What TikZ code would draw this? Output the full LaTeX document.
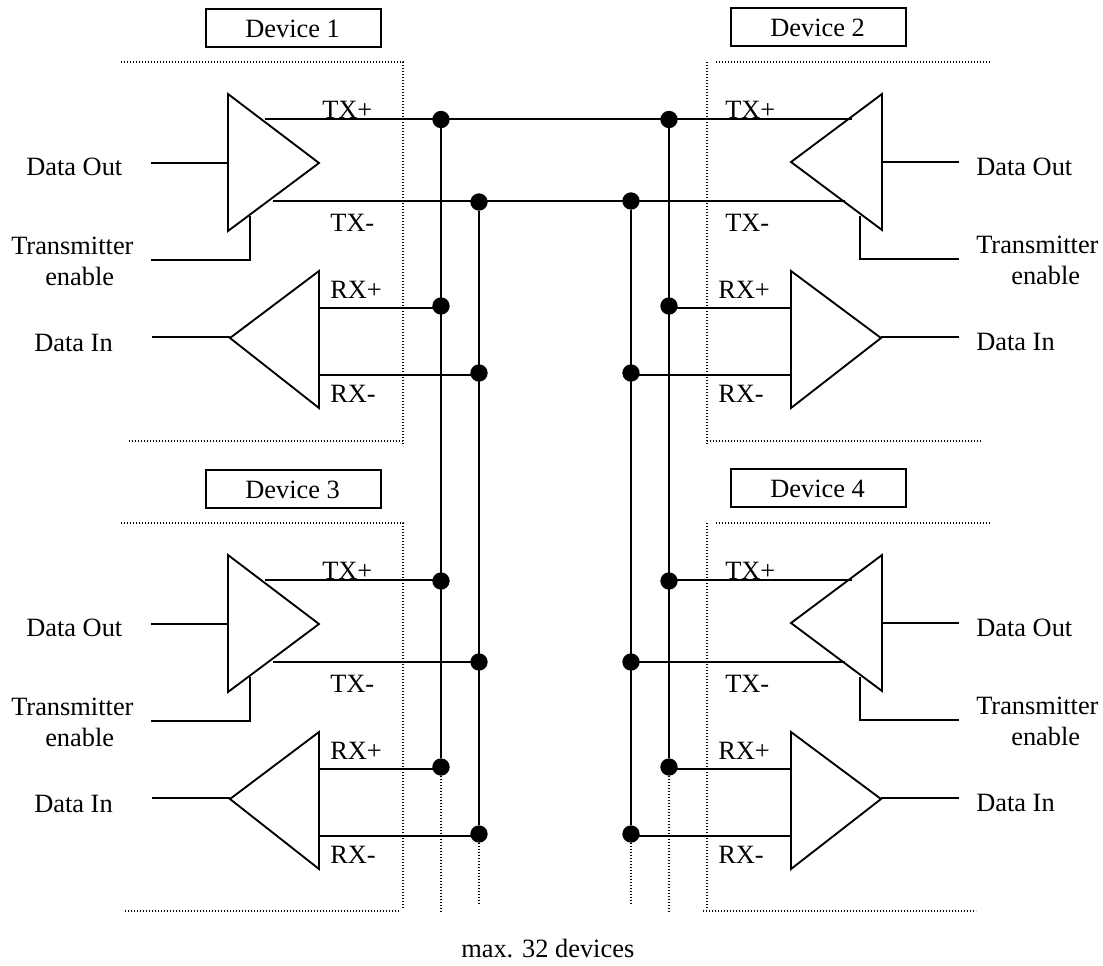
\documentclass[tikz,border=0pt]{standalone}
\usepackage{fontspec}
\setmainfont{Liberation Serif}
\tikzset{
  wire/.style={draw=black,line width=1.4pt},
  amp/.style={draw=black,line width=1.4pt,line join=miter,fill=none},
  dotline/.style={draw=black,line width=0.9pt,dash pattern=on 0.9pt off 1.35pt},
  junction/.style={circle,fill=black,inner sep=0pt,minimum size=13pt},
  lab/.style={anchor=base west,inner sep=0pt,font=\fontsize{19.8}{24}\selectfont},
  devbox/.style={draw=black,line width=1.5pt,inner sep=0pt,anchor=north west,minimum width=131pt,minimum height=28.5pt}
}
% #1 name, #2 y offset, #3 device label, #4 #5 dotted bottom x range, #6 dotted vertical end, #7 title left, #8 dotted bottom y
\newcommand{\leftdev}[8]{%
\begin{scope}[shift={(0,#2)}]
  \node[devbox] (#1box) at (205,8) {};
  \node[lab] (#1title) at (#7,37) {#3};
  \coordinate (#1dt) at (121,62); \coordinate (#1dc) at (403,62);
  \coordinate (#1de) at (403,#6); \coordinate (#1db) at (#4,#8); \coordinate (#1dbe) at (#5,#8);
  \draw[dotline] (#1dt) -- (#1dc) -- (#1de);
  \draw[dotline] (#1db) -- (#1dbe);
  \coordinate (#1ta) at (228,94); \coordinate (#1tb) at (319,163); \coordinate (#1tc) at (228,231);
  \draw[amp] (#1ta) -- (#1tb) -- (#1tc) -- cycle;
  \coordinate (#1ra) at (230,338); \coordinate (#1rb) at (319,271); \coordinate (#1rc) at (319,408);
  \draw[amp] (#1ra) -- (#1rb) -- (#1rc) -- cycle;
  \coordinate (#1do) at (151,163); \coordinate (#1doi) at (228,163);
  \draw[wire] (#1do) -- (#1doi);
  \coordinate (#1en) at (151,260); \coordinate (#1enc) at (250,260); \coordinate (#1ent) at (250,216);
  \draw[wire] (#1en) -- (#1enc) -- (#1ent);
  \coordinate (#1di) at (152,337); \coordinate (#1dii) at (230,337);
  \draw[wire] (#1di) -- (#1dii);
  \coordinate (#1txp) at (265,119); \coordinate (#1txm) at (273,201);
  \coordinate (#1rxp) at (319,308); \coordinate (#1rxm) at (319,375);
  \node[lab] (#1lo) at (26,175) {Data Out};
  \node[lab] (#1le) at (11,254) {Transmitter};
  \node[lab] (#1lf) at (45,285) {enable};
  \node[lab] (#1li) at (34,351) {Data In};
  \node[lab] (#1l1) at (322,118) {TX+};
  \node[lab] (#1l2) at (330,231) {TX-};
  \node[lab] (#1l3) at (330,298) {RX+};
  \node[lab] (#1l4) at (330,402) {RX-};
\end{scope}}
\newcommand{\rightdev}[8]{%
\begin{scope}[shift={(0,#2)}]
  \node[devbox] (#1box) at (730,7) {};
  \node[lab] (#1title) at (#7,36) {#3};
  \coordinate (#1dt) at (716,62); \coordinate (#1dte) at (990,62);
  \coordinate (#1dc) at (707,62); \coordinate (#1de) at (707,#6);
  \coordinate (#1db) at (#4,#8); \coordinate (#1dbe) at (#5,#8);
  \draw[dotline] (#1dt) -- (#1dte);
  \draw[dotline] (#1dc) -- (#1de);
  \draw[dotline] (#1db) -- (#1dbe);
  \coordinate (#1ta) at (882,94); \coordinate (#1tb) at (791,162); \coordinate (#1tc) at (882,230);
  \draw[amp] (#1ta) -- (#1tb) -- (#1tc) -- cycle;
  \coordinate (#1ra) at (791,271); \coordinate (#1rb) at (881,338); \coordinate (#1rc) at (791,408);
  \draw[amp] (#1ra) -- (#1rb) -- (#1rc) -- cycle;
  \coordinate (#1do) at (959,162); \coordinate (#1doi) at (882,162);
  \draw[wire] (#1do) -- (#1doi);
  \coordinate (#1en) at (959,259); \coordinate (#1enc) at (860,259); \coordinate (#1ent) at (860,216);
  \draw[wire] (#1en) -- (#1enc) -- (#1ent);
  \coordinate (#1di) at (959,337); \coordinate (#1dii) at (881,337);
  \draw[wire] (#1di) -- (#1dii);
  \coordinate (#1txp) at (852,119); \coordinate (#1txm) at (845,201);
  \coordinate (#1rxp) at (791,308); \coordinate (#1rxm) at (791,375);
  \node[lab] (#1lo) at (976,175) {Data Out};
  \node[lab] (#1le) at (976,253) {Transmitter};
  \node[lab] (#1lf) at (1011,284) {enable};
  \node[lab] (#1li) at (976,350) {Data In};
  \node[lab] (#1l1) at (725,118) {TX+};
  \node[lab] (#1l2) at (725,231) {TX-};
  \node[lab] (#1l3) at (718,298) {RX+};
  \node[lab] (#1l4) at (718,402) {RX-};
\end{scope}}
\begin{document}
\begin{tikzpicture}[x=0.75pt,y=-0.75pt]
\useasboundingbox (0,0) rectangle (1103,965);
\leftdev{A}{0}{Device 1}{129}{403}{446}{245}{441}
\rightdev{B}{0}{Device 2}{707}{981}{446}{770}{441}
\leftdev{C}{461}{Device 3}{125}{399}{447}{245}{450}
\rightdev{D}{461}{Device 4}{703}{976}{447}{770}{450}
% junctions
\node[junction] (j1) at (441,119.5) {};
\node[junction] (j2) at (479,202) {};
\node[junction] (j3) at (631,201) {};
\node[junction] (j4) at (669,119.5) {};
\node[junction] (j5) at (441,306) {};
\node[junction] (j6) at (479,373) {};
\node[junction] (j7) at (631,373) {};
\node[junction] (j8) at (669,306) {};
\node[junction] (j9) at (441,581) {};
\node[junction] (j10) at (479,662) {};
\node[junction] (j11) at (631,662) {};
\node[junction] (j12) at (669,581) {};
\node[junction] (j13) at (441,767) {};
\node[junction] (j14) at (479,834) {};
\node[junction] (j15) at (631,834) {};
\node[junction] (j16) at (669,767) {};
% device wires to junctions
\draw[wire] (Atxp) -- (Atxp -| j1.center) -- (Btxp);
\draw[wire] (Atxm) -- (Btxm);
\draw[wire] (Arxp) -- (Arxp -| j5.center);
\draw[wire] (Arxm) -- (Arxm -| j6.center);
\draw[wire] (Brxp) -- (Brxp -| j8.center);
\draw[wire] (Brxm) -- (Brxm -| j7.center);
\draw[wire] (Ctxp) -- (Ctxp -| j9.center);
\draw[wire] (Ctxm) -- (Ctxm -| j10.center);
\draw[wire] (Crxp) -- (Crxp -| j13.center);
\draw[wire] (Crxm) -- (Crxm -| j14.center);
\draw[wire] (Dtxp) -- (Dtxp -| j12.center);
\draw[wire] (Dtxm) -- (Dtxm -| j11.center);
\draw[wire] (Drxp) -- (Drxp -| j16.center);
\draw[wire] (Drxm) -- (Drxm -| j15.center);
% buses
\draw[wire] (j1) -- (j13);
\draw[wire] (j2) -- (j14);
\draw[wire] (j3) -- (j15);
\draw[wire] (j4) -- (j16);
% dotted continuations
\coordinate (e1) at (441,911); \coordinate (e2) at (479,903);
\coordinate (e3) at (631,903); \coordinate (e4) at (669,911);
\draw[dotline] (j13) -- (e1);
\draw[dotline] (j14) -- (e2);
\draw[dotline] (j15) -- (e3);
\draw[dotline] (j16) -- (e4);
\node[lab] (max) at (461,957) {max. 32 devices};
\end{tikzpicture}
\end{document}
